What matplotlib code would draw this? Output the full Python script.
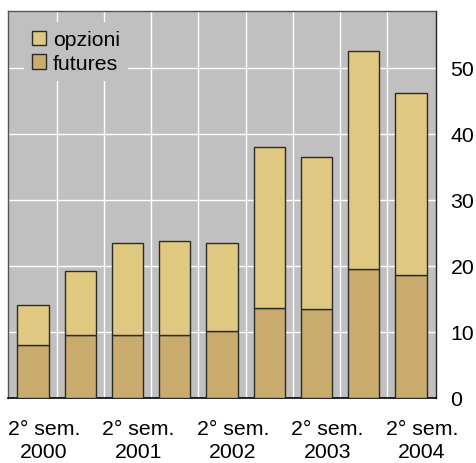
import matplotlib
matplotlib.use("Agg")
import matplotlib.pyplot as plt
import matplotlib.transforms as mtransforms
import numpy as np

plt.rcParams['font.family'] = ['Liberation Sans', 'DejaVu Sans']

periods = ["2° sem.\n2000", "1° sem.\n2001", "2° sem.\n2001", "1° sem.\n2002",
           "2° sem.\n2002", "1° sem.\n2003", "2° sem.\n2003", "1° sem.\n2004",
           "2° sem.\n2004"]
futures = [8.1, 9.5, 9.5, 9.5, 10.1, 13.7, 13.5, 19.5, 18.6]
totals = [14.1, 19.3, 23.5, 23.8, 23.5, 38.0, 36.5, 52.6, 46.2]
opzioni = [t - f for t, f in zip(totals, futures)]
yticks = [0, 10, 20, 30, 40, 50]

c_opz = "#dfc980"
c_fut = "#c9ab6e"
edge = "#2a2a2a"
fs = 15.3

fig = plt.figure(figsize=(4.76, 4.64), dpi=100)
ax = fig.add_axes([8 / 476, 1 - 399 / 464, 428 / 476, 387 / 464])
ax.set_facecolor("#c0c0c0")

x = np.arange(len(periods))
ax.bar(x, futures, width=0.66, color=c_fut, edgecolor=edge, linewidth=1.0,
       label="futures", zorder=3)
ax.bar(x, opzioni, width=0.66, bottom=futures, color=c_opz, edgecolor=edge,
       linewidth=1.0, label="opzioni", zorder=3)

ax.set_xlim(-0.53, len(periods) - 0.47)
ax.set_ylim(0, 58.6)

# white grid between bars and at each y tick
ax.set_xticks(x[:-1] + 0.5, minor=True)
ax.set_xticks(x[::2])
ax.set_xticklabels([periods[i] for i in x[::2]], fontsize=fs,
                   linespacing=1.3)
ax.grid(True, which="minor", axis="x", color="white", linewidth=1.0, zorder=1)
ax.set_yticks(yticks)
ax.grid(True, which="major", axis="y", color="white", linewidth=1.0, zorder=1)
ax.set_axisbelow(True)

ax.yaxis.tick_right()
ax.tick_params(axis="y", length=0, labelsize=fs, pad=10.5)
ax.tick_params(axis="x", which="both", length=0, labelsize=fs, pad=15)

# shift the period labels slightly to the right
shift = mtransforms.ScaledTranslation(11 / 100, 0, fig.dpi_scale_trans)
for lab in ax.get_xticklabels():
    lab.set_transform(lab.get_transform() + shift)

for side in ["left", "top", "right"]:
    ax.spines[side].set_color("#555555")
    ax.spines[side].set_linewidth(1.0)
ax.spines["right"].set_color("#222222")
ax.spines["bottom"].set_color("black")
ax.spines["bottom"].set_linewidth(1.2)

handles, labels = ax.get_legend_handles_labels()
leg = ax.legend(handles[::-1], labels[::-1], loc="upper left",
                bbox_to_anchor=(0.012, 1.0), fontsize=fs, frameon=True,
                facecolor="#c0c0c0", edgecolor="none", framealpha=1,
                handlelength=0.66, handleheight=0.66, handletextpad=0.3,
                labelspacing=0.22, borderpad=0.4, fancybox=False)
leg.set_zorder(5)

fig.savefig("out.png", dpi=100)
